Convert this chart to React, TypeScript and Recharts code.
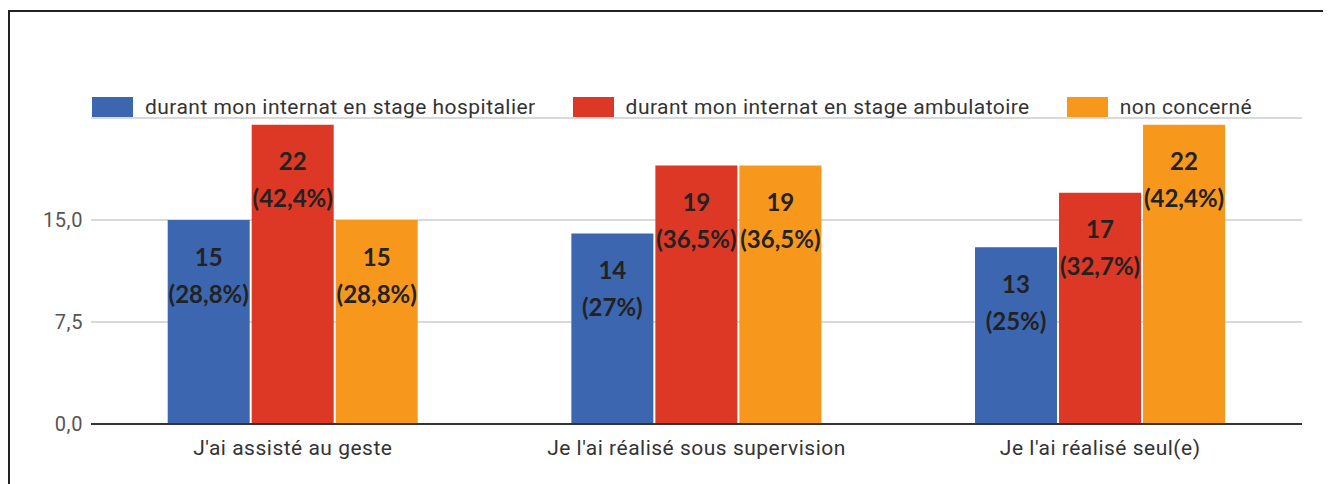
import React from "react";
import { BarChart, Bar, XAxis, YAxis, CartesianGrid, Legend, LabelList } from "recharts";

const categories = ["J'ai assisté au geste", "Je l'ai réalisé sous supervision", "Je l'ai réalisé seul(e)"];
const seriesNames = [
  "durant mon internat en stage hospitalier",
  "durant mon internat en stage ambulatoire",
  "non concerné",
];
const hospitalier = [15, 14, 13];
const ambulatoire = [22, 19, 17];
const nonConcerne = [15, 19, 22];
const hospitalierPct = ["28,8%", "27%", "25%"];
const ambulatoirePct = ["42,4%", "36,5%", "32,7%"];
const nonConcernePct = ["28,8%", "36,5%", "42,4%"];
const yTicks = [0, 7.5, 15, 22.5];

const colors = ["#3c66b0", "#dc3825", "#f7981d"];

const data = categories.map((c, i) => ({
  name: c,
  s0: hospitalier[i],
  s1: ambulatoire[i],
  s2: nonConcerne[i],
}));
const pcts = [hospitalierPct, ambulatoirePct, nonConcernePct];

const makeLabel = (pct: string[]) => (props: any) => {
  const { x, y, width, value, index } = props;
  const cx = Number(x) + Number(width) / 2;
  const top = Number(y);
  return (
    <g>
      <text x={cx} y={top + 36} textAnchor="middle" dominantBaseline="central"
        fontFamily="Lato" fontWeight={700} fontSize={24} fill="#222">{value}</text>
      <text x={cx} y={top + 73} textAnchor="middle" dominantBaseline="central"
        fontFamily="Lato" fontWeight={700} fontSize={24} fill="#222">({pct[index]})</text>
    </g>
  );
};

const renderLegend = () => (
  <div style={{ display: "flex", alignItems: "center", height: 22, fontFamily: "Roboto", fontSize: 21, color: "#333", letterSpacing: 0.45, whiteSpace: "nowrap" }}>
    {seriesNames.map((n, i) => (
      <div key={n} style={{ display: "flex", alignItems: "center", marginRight: 37 }}>
        <div style={{ width: 41, height: 20, background: colors[i], marginRight: 12 }} />
        <span>{n}</span>
      </div>
    ))}
  </div>
);

export default function App() {
  return (
    <div style={{ position: "relative", width: 1331, height: 484 }}>
      <div style={{ position: "absolute", left: -8, top: -8, width: 1331, height: 484, background: "#fff", overflow: "hidden" }}>
        <div style={{ position: "absolute", left: 8, top: 10, width: 1313, height: 520, border: "2px solid #222" }} />
        <div style={{ position: "absolute", left: 0, top: 0 }}>
          <BarChart width={1331} height={484} data={data}
            margin={{ top: 118, right: 29, bottom: 30, left: 31 }}
            barCategoryGap="19%" barGap={2}>
            <CartesianGrid vertical={false} stroke="#d9d9d9" strokeWidth={2} />
            <XAxis dataKey="name" height={30} tickLine={false} tickSize={0} tickMargin={16}
              axisLine={{ stroke: "#333", strokeWidth: 2 }}
              tick={{ fontFamily: "Roboto", fontSize: 21, fill: "#333", letterSpacing: 0.5 }} interval={0} />
            <YAxis width={60} domain={[0, 22.5]} ticks={yTicks} axisLine={false} tickLine={false}
              tickSize={0} tickMargin={8}
              tickFormatter={(v: number) => (v === 22.5 ? "" : v.toFixed(1).replace(".", ","))}
              tick={{ fontFamily: "Roboto", fontSize: 20, fill: "#555", letterSpacing: 0.6 }} />
            <Legend layout="horizontal" verticalAlign="middle" align="center" content={renderLegend}
              wrapperStyle={{ top: 96, left: 92, width: 1200, height: 22 }} />
            {[0, 1, 2].map((i) => (
              <Bar key={i} dataKey={`s${i}`} name={seriesNames[i]} fill={colors[i]} isAnimationActive={false}>
                <LabelList dataKey={`s${i}`} content={makeLabel(pcts[i])} />
              </Bar>
            ))}
          </BarChart>
        </div>
      </div>
    </div>
  );
}
